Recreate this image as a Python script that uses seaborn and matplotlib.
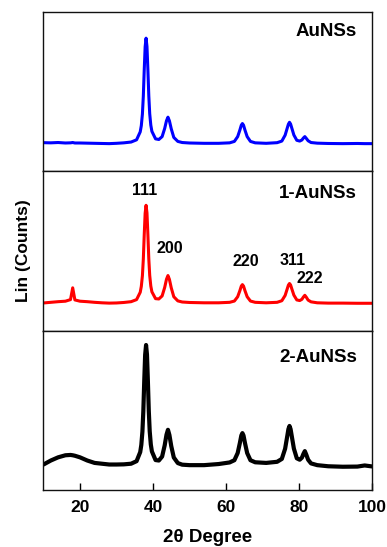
import matplotlib
matplotlib.use("Agg")
import matplotlib.pyplot as plt
import seaborn as sns
import pandas as pd

# ---- data ----
two_theta = [10, 12, 14, 16, 17.4, 18, 18.6, 20, 22, 24, 26, 28, 30, 32, 34,
             35.5, 36.5, 36.8, 37.1, 37.35, 37.6, 37.85, 38.1, 38.35, 38.6, 38.85,
             39.1, 39.4, 39.7, 40.7, 41.6, 42.5, 43.2, 43.7, 44.1, 44.5, 45.0,
             45.7, 46.8, 48, 50, 54, 58, 61, 62.3, 63.2, 63.8,
             64.2, 64.5, 64.8, 65.2, 65.8, 66.7, 68, 71, 74, 75.3,
             76.2, 76.8, 77.1, 77.4, 77.7, 78.0, 78.6, 79.4, 80.2, 80.8,
             81.2, 81.6, 82.0, 82.5, 83.3, 85, 88, 92, 96, 98, 100]

counts_aunss = [18.0, 17.9, 18.1, 17.8, 17.9, 18.1, 17.8, 17.8, 17.7, 17.6, 17.5, 17.4, 17.6, 17.9, 18.4,
                19.8, 24.8, 28.7, 36.0, 47.2, 63.7, 78.2, 83.6, 78.4, 63.9, 47.4,
                36.2, 29.0, 25.1, 20.4, 20.0, 21.8, 26.9, 31.8, 34.0, 31.7, 26.7,
                21.3, 18.8, 18.1, 17.8, 17.6, 17.6, 17.9, 18.8, 21.8, 25.9,
                29.0, 30.0, 29.0, 25.9, 21.8, 18.8, 17.9, 17.6, 18.0, 19.0,
                22.7, 27.3, 29.6, 30.8, 29.7, 27.4, 22.8, 19.5, 19.0, 19.7,
                20.9, 21.8, 20.7, 19.2, 18.1, 17.7, 17.5, 17.4, 17.5, 17.4, 17.4]

counts_1_aunss = [17.4, 17.8, 18.2, 18.5, 19.5, 26.9, 19.3, 18.5, 18.2, 17.8, 17.5, 17.3, 17.4, 17.7, 18.2,
                  19.5, 24.1, 27.8, 34.5, 44.9, 60.2, 73.7, 78.7, 73.9, 60.4, 45.1,
                  34.7, 28.0, 24.4, 20.1, 19.9, 21.8, 27.1, 32.3, 34.6, 32.2, 26.9,
                  21.3, 18.7, 18.0, 17.7, 17.5, 17.5, 17.8, 18.6, 21.3, 25.1,
                  28.0, 28.9, 28.0, 25.1, 21.3, 18.6, 17.8, 17.5, 17.8, 18.8,
                  22.1, 26.4, 28.6, 29.6, 28.7, 26.5, 22.3, 19.3, 18.9, 19.7,
                  21.1, 22.2, 21.0, 19.2, 18.1, 17.5, 17.3, 17.3, 17.2, 17.2, 17.2]

counts_2_aunss = [16.0, 18.5, 20.5, 21.8, 22.0, 21.8, 21.5, 20.5, 18.5, 17.0, 16.5, 16.0, 16.0, 16.1, 16.5,
                  18.1, 23.8, 28.3, 36.6, 49.4, 68.2, 84.8, 91.0, 85.0, 68.4, 49.6,
                  36.9, 28.6, 24.2, 18.8, 18.5, 21.0, 28.0, 34.7, 37.8, 34.5, 27.6,
                  20.4, 16.9, 15.9, 15.6, 15.6, 16.3, 17.3, 18.7, 23.2, 29.5,
                  34.2, 35.7, 34.2, 29.5, 23.2, 18.7, 17.4, 17.0, 17.7, 19.5,
                  25.9, 34.0, 38.2, 40.2, 38.2, 34.1, 26.0, 19.9, 19.0, 20.3,
                  22.6, 24.4, 22.2, 19.0, 16.7, 15.6, 14.9, 14.6, 14.7, 15.4, 14.8]

sample_names = ["AuNSs", "1-AuNSs", "2-AuNSs"]
sample_colors = ["#0000FF", "#FF0000", "#000000"]

peak_labels = ["111", "200", "220", "311", "222"]
peak_label_x = [37.6, 44.6, 65.4, 78.3, 82.9]
peak_label_y = [88.2, 51.6, 43.6, 44.2, 32.7]

x_ticks = [20, 40, 60, 80, 100]

# ---- plotting ----
sns.set_style("ticks")
plt.rcParams["font.family"] = ["Liberation Sans", "DejaVu Sans"]
plt.rcParams["font.weight"] = "bold"
plt.rcParams["text.color"] = "black"
plt.rcParams["axes.labelcolor"] = "black"
plt.rcParams["xtick.color"] = "black"
plt.rcParams["xtick.labelcolor"] = "black"

fig, axes = plt.subplots(3, 1, figsize=(3.87, 5.47), dpi=100, sharex=True)
fig.subplots_adjust(left=0.1124, right=0.9612, bottom=0.1042, top=0.978, hspace=0)

series = [counts_aunss, counts_1_aunss, counts_2_aunss]
widths = [2.2, 2.2, 3.0]
label_y = [0.878, 0.862, 0.833]

for ax, name, col, ys, lw, ly in zip(axes, sample_names, sample_colors, series, widths, label_y):
    df = pd.DataFrame({"two_theta": two_theta, "counts": ys})
    sns.lineplot(data=df, x="two_theta", y="counts", ax=ax, color=col,
                 linewidth=lw, sort=False, estimator=None)
    ax.set_xlim(10, 100)
    ax.set_ylim(0, 100)
    ax.set_yticks([])
    ax.set_ylabel("")
    ax.set_xlabel("")
    for s in ax.spines.values():
        s.set_visible(True)
        s.set_color("#111111")
        s.set_linewidth(1.0)
    ax.text(0.954, ly, name, transform=ax.transAxes, ha="right", va="center",
            fontsize=13.5, fontweight="bold", color="black")
    ax.tick_params(axis="x", direction="in", length=5, width=1.0,
                   labelsize=12.5, pad=7, colors="black")

for lab, px, py in zip(peak_labels, peak_label_x, peak_label_y):
    axes[1].text(px, py, lab, ha="center", va="center", fontsize=11.5,
                 fontweight="bold", color="black")

axes[2].set_xticks(x_ticks)
axes[2].set_xticklabels([str(t) for t in x_ticks], fontweight="bold")
for ax in axes[:2]:
    ax.tick_params(axis="x", length=0)

axes[2].set_xlabel("2θ Degree", fontsize=13.5, fontweight="bold", labelpad=10)
axes[1].set_ylabel("Lin (Counts)", fontsize=12.5, fontweight="bold", labelpad=9)

fig.savefig("out.png", dpi=100)
